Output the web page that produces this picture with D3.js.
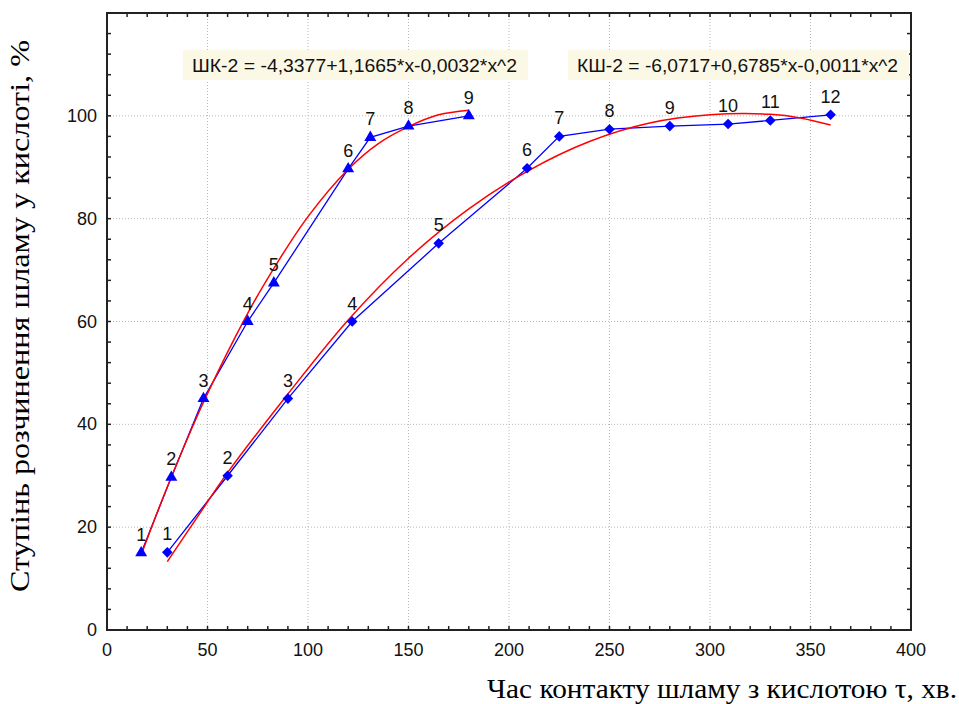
<!DOCTYPE html>
<html><head><meta charset="utf-8">
<script src="https://cdn.jsdelivr.net/npm/d3@7"></script>
<style>body{margin:0;background:#fff}svg{display:block}</style>
</head><body>
<svg id="c" width="959" height="704"></svg>
<script>
// ---- data ----
const shkX = [17, 32, 48, 70, 83, 120, 131, 150, 180];
const shkY = [15, 29.7, 45, 60, 67.5, 89.7, 95.8, 98, 100];
const kshX = [30, 60, 90, 122, 165, 209, 225, 250, 280, 309, 330, 360];
const kshY = [15.1, 30, 45, 60, 75.2, 89.8, 96, 97.4, 98, 98.4, 99.1, 100.2];
const shkFitX = [17, 30, 48, 70, 85, 100, 120, 135, 150, 165, 180];
const shkFitY = [14.6, 27.8, 44.3, 61.6, 71.6, 80.4, 89.6, 94.6, 97.9, 100.2, 101.1];
const kshFitX = [30, 45, 60, 90, 120, 150, 180, 210, 240, 270, 300, 330, 345, 360];
const kshFitY = [13.3, 22, 30.6, 45.9, 60.3, 72.3, 81.9, 89.4, 95, 98.6, 100.2, 100.3, 99.6, 98.2];
const xTickValues = [0, 50, 100, 150, 200, 250, 300, 350, 400];
const yTickValues = [0, 20, 40, 60, 80, 100];
const eqShk = "ШК-2 = -4,3377+1,1665*x-0,0032*x^2";
const eqKsh = "КШ-2 = -6,0717+0,6785*x-0,0011*x^2";
const xTitle = "Час контакту шламу з кислотою τ, хв.";
const yTitle = "Ступінь розчинення шламу у кислоті, %";

const svg = d3.select("#c");
const L = 107, R = 911, T = 13, B = 630;
const x = d3.scaleLinear().domain([0, 400]).range([L, R]);
const y = d3.scaleLinear().domain([0, 120]).range([B, T]);

// grid
const g = svg.append("g");
g.selectAll(".gx").data(xTickValues.filter(v => v > 0 && v < 400)).join("line")
  .attr("x1", d => x(d)).attr("x2", d => x(d)).attr("y1", T).attr("y2", B)
  .attr("stroke", "#b8b8b8").attr("stroke-dasharray", "1,2");
g.selectAll(".gy").data(yTickValues.filter(v => v > 0)).join("line")
  .attr("y1", d => y(d)).attr("y2", d => y(d)).attr("x1", L).attr("x2", R)
  .attr("stroke", "#b8b8b8").attr("stroke-dasharray", "1,2");

// minor/major ticks inside on all four sides
const xt = d3.range(10, 400, 10), yt = d3.range(4, 120, 4);
const tk = svg.append("g").attr("stroke", "#222").attr("stroke-width", 1.5);
xt.forEach(v => {
  tk.append("line").attr("x1", x(v)).attr("x2", x(v)).attr("y1", B).attr("y2", B - 4);
  tk.append("line").attr("x1", x(v)).attr("x2", x(v)).attr("y1", T).attr("y2", T + 4);
});
yt.forEach(v => {
  tk.append("line").attr("y1", y(v)).attr("y2", y(v)).attr("x1", L).attr("x2", L + 4);
  tk.append("line").attr("y1", y(v)).attr("y2", y(v)).attr("x1", R).attr("x2", R - 4);
});

// frame
svg.append("rect").attr("x", L).attr("y", T).attr("width", R - L).attr("height", B - T)
  .attr("fill", "none").attr("stroke", "#222").attr("stroke-width", 2);

// tick labels
const tf = "'Liberation Sans', Arial, sans-serif";
svg.selectAll(".xl").data(xTickValues).join("text")
  .attr("x", d => x(d)).attr("y", 656).attr("text-anchor", "middle")
  .attr("font-family", tf).attr("font-size", 18).attr("fill", "#111").text(d => d);
svg.selectAll(".yl").data(yTickValues).join("text")
  .attr("x", 97).attr("y", d => y(d) + 6).attr("text-anchor", "end")
  .attr("font-family", tf).attr("font-size", 18).attr("fill", "#111").text(d => d);

// equation boxes
function eqBox(x0, x1, txt) {
  svg.append("rect").attr("x", x0).attr("y", 50).attr("width", x1 - x0).attr("height", 30)
    .attr("fill", "#fcf8e6");
  svg.append("text").attr("x", x0 + 9).attr("y", 72).attr("font-family", tf).attr("font-size", 18)
    .attr("fill", "#111").attr("textLength", x1 - x0 - 20).attr("lengthAdjust", "spacingAndGlyphs").text(txt);
}
eqBox(183, 528, eqShk);
eqBox(568, 909, eqKsh);

// curves
const line = d3.line().x(d => x(d[0])).y(d => y(d[1]));
const fitLine = d3.line().x(d => x(d[0])).y(d => y(d[1])).curve(d3.curveCatmullRom);
const zip = (a, b) => a.map((v, i) => [v, b[i]]);
svg.append("path").datum(zip(shkX, shkY)).attr("d", line).attr("fill", "none").attr("stroke", "#0000ff").attr("stroke-width", 1.3);
svg.append("path").datum(zip(kshX, kshY)).attr("d", line).attr("fill", "none").attr("stroke", "#0000ff").attr("stroke-width", 1.3);
svg.append("path").datum(zip(shkFitX, shkFitY)).attr("d", fitLine).attr("fill", "none").attr("stroke", "#ff0000").attr("stroke-width", 1.5);
svg.append("path").datum(zip(kshFitX, kshFitY)).attr("d", fitLine).attr("fill", "none").attr("stroke", "#ff0000").attr("stroke-width", 1.5);

// markers
const tri = d3.symbol().type(d3.symbolTriangle).size(62);
const dia = d3.symbol().type(d3.symbolSquare).size(56);
svg.selectAll(".ts").data(zip(shkX, shkY)).join("path")
  .attr("d", tri).attr("transform", d => `translate(${x(d[0])},${y(d[1])})`).attr("fill", "#0000ff");
svg.selectAll(".ds").data(zip(kshX, kshY)).join("path")
  .attr("d", dia).attr("transform", d => `translate(${x(d[0])},${y(d[1])}) rotate(45)`).attr("fill", "#0000ff");

// point labels
function labels(xs, ys) {
  svg.append("g").selectAll("text").data(zip(xs, ys)).join("text")
    .attr("x", d => x(d[0])).attr("y", d => y(d[1]) - 12).attr("text-anchor", "middle")
    .attr("font-family", tf).attr("font-size", 18).attr("fill", "#111").text((d, i) => i + 1);
}
labels(shkX, shkY);
labels(kshX, kshY);

// axis titles
const sf = "'Liberation Serif', 'Times New Roman', serif";
svg.append("text").attr("x", 487).attr("y", 698).attr("font-family", sf).attr("font-size", 27)
  .attr("fill", "#000").attr("textLength", 470).attr("lengthAdjust", "spacingAndGlyphs").text(xTitle);
svg.append("text").attr("transform", "translate(29,592) rotate(-90)").attr("font-family", sf).attr("font-size", 27)
  .attr("fill", "#000").attr("textLength", 552).attr("lengthAdjust", "spacingAndGlyphs").text(yTitle);
</script>
</body></html>
